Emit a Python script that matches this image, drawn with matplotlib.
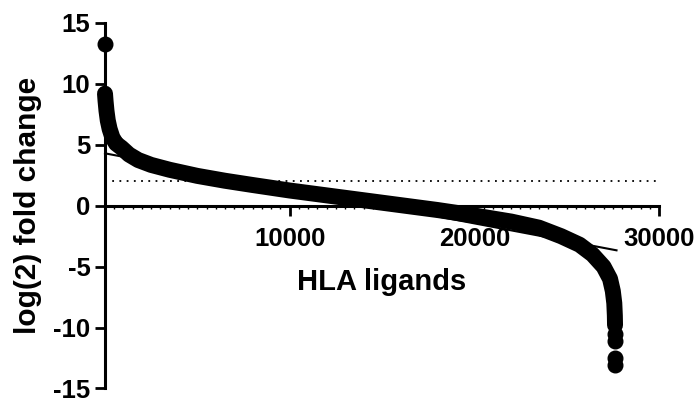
import matplotlib
matplotlib.use("Agg")
import matplotlib.pyplot as plt
from matplotlib.ticker import MultipleLocator

plt.rcParams['font.family'] = ['Liberation Sans', 'DejaVu Sans']

# ranked log2 fold changes
rank = [0, 30, 80, 150, 250, 400, 600, 900, 1300, 1800, 2500, 3500, 5000,
        6500, 8000, 10000, 12000, 14000, 16000, 18000, 20000, 22000, 23500,
        24700, 25700, 26400, 27000, 27350, 27500, 27580, 27610, 27620]
log2fc = [9.2, 8.6, 7.8, 7.0, 6.3, 5.6, 5.1, 4.75, 4.2, 3.75, 3.35, 2.95, 2.45,
          2.05, 1.7, 1.25, 0.85, 0.45, 0.05, -0.35, -0.8, -1.3, -1.8,
          -2.5, -3.2, -4.0, -5.0, -6.0, -7.0, -8.0, -9.0, -9.8]

# single points standing out at both ends
out_rank = [0, 27620, 27620, 27620, 27620]
out_fc = [13.3, -10.5, -11.1, -12.5, -13.1]

# linear trend line ends
fit_rank = [0, 27700]
fit_fc = [4.3, -3.66]

cutoff = 2

fig = plt.figure(figsize=(7, 4.03), dpi=100)
ax = fig.add_axes([0.15, 0.036, 0.7914, 0.907])

ax.hlines(cutoff, 0, 30000, colors='black', linestyles=(0, (1, 3)), linewidth=1.3, zorder=2)
ax.plot(fit_rank, fit_fc, color='black', linewidth=1.5, zorder=2.6, clip_on=False)
ax.plot(rank, log2fc, color='black', linewidth=11.5, solid_capstyle='round',
        solid_joinstyle='round', zorder=3, clip_on=False)
ax.plot(out_rank, out_fc, 'o', color='black', markersize=10.5, zorder=3, clip_on=False)

ax.set_xlim(0, 30000)
ax.set_ylim(-15, 15)
ax.spines['top'].set_visible(False)
ax.spines['right'].set_visible(False)
ax.spines['bottom'].set_position(('data', 0))
for s in ['left', 'bottom']:
    ax.spines[s].set_linewidth(2.2)

ax.set_xticks([10000, 20000, 30000])
ax.set_xticklabels(['10000', '20000', '30000'], fontweight='bold')
ax.xaxis.set_minor_locator(MultipleLocator(500))
ax.set_yticks([-15, -10, -5, 0, 5, 10, 15])
ax.set_yticklabels(['-15', '-10', '-5', '0', '5', '10', '15'], fontweight='bold')

ax.tick_params(axis='both', which='major', length=7, width=2, labelsize=18.5)
ax.tick_params(axis='x', which='major', pad=8.5)
ax.tick_params(axis='y', which='major', pad=3.5)
ax.tick_params(axis='x', which='minor', length=2.5, width=1)

ax.set_xlabel('HLA ligands', fontsize=21, fontweight='bold')
ax.xaxis.set_label_coords(0.5, 0.33)
ax.set_ylabel('log(2) fold change', fontsize=21.5, fontweight='bold')
ax.yaxis.set_label_coords(-0.114, 0.5)

fig.savefig('out.png', dpi=100)
